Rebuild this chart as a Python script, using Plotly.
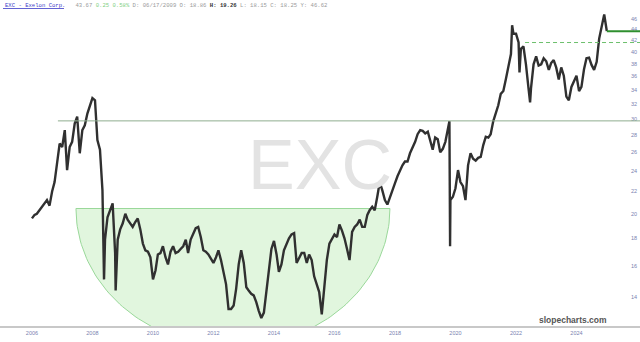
import math
import numpy as np
import pandas as pd
import plotly.graph_objects as go

# ---------------- data ----------------
first_month = "2006-01-01"
close_monthly = [
    19.6, 19.9, 20.0, 20.3, 20.5, 20.8, 21.2, 20.7, 22.0, 22.9,
    24.8, 27.0, 26.6, 28.6, 24.1, 26.6, 27.2, 29.4, 30.3, 25.9,
    28.6, 29.2, 30.7, 31.8, 32.8, 32.5, 27.4, 26.3, 22.1, 17.9,
    19.7, 20.3, 20.9, 16.9, 17.9, 18.7, 19.2, 20.0, 19.5, 19.2,
    18.9, 19.3, 19.6, 18.7, 17.6, 17.1, 17.0, 16.6, 15.1, 15.7,
    16.8, 16.9, 17.4, 16.6, 16.1, 17.0, 17.4, 16.9, 17.0, 17.2,
    17.4, 17.9, 16.9, 17.9, 18.4, 18.8, 18.9, 18.1, 17.1, 17.0,
    16.8, 16.5, 16.2, 16.6, 17.1, 16.4, 15.5, 14.8, 13.3, 13.3,
    13.5, 14.5, 16.1, 17.1, 16.2, 14.6, 14.4, 14.2, 14.1, 13.7,
    13.2, 12.8, 13.1, 14.3, 15.7, 17.2, 17.8, 16.8, 15.6, 16.1,
    17.1, 17.6, 18.0, 18.3, 18.4, 16.2, 16.6, 16.9, 16.9, 16.2,
    16.8, 16.4, 15.3, 14.8, 14.3, 13.0, 14.8, 16.4, 17.6, 17.9,
    18.3, 18.1, 19.1, 18.6, 18.0, 17.2, 16.4, 18.5, 18.9, 19.1,
    19.5, 18.9, 18.9, 19.9, 20.3, 20.6, 20.3, 21.5, 22.9, 22.1,
    21.2, 20.8, 21.4, 22.1, 22.8, 23.5, 24.1, 24.6, 25.0, 25.0,
    25.9, 26.5, 27.2, 28.1, 28.6, 28.5, 28.2, 28.4, 27.4, 26.3,
    27.7, 27.5, 26.0, 26.4, 27.2, 29.0, 21.2, 21.5, 22.3, 24.1,
    22.9, 22.5, 21.2, 24.6, 25.9, 25.3, 25.1, 25.4, 25.5, 26.8,
    27.8, 27.7, 28.1, 29.7, 30.7, 31.8, 33.4, 33.8, 35.6, 37.3,
    39.6, 43.2, 43.2, 41.6, 40.5, 40.9, 37.9, 34.2, 34.2, 37.9,
    39.2, 37.7, 37.9, 38.9, 38.4, 37.0, 38.1, 38.6, 37.4, 35.5,
    37.4, 36.1, 33.0, 32.5, 34.4, 35.3, 36.1, 33.8, 34.4, 37.1,
    38.9, 39.0, 37.8, 37.0, 38.3, 42.3, 44.3, 46.9, 43.7,
]
spike_dates = ["2008-05-20", "2008-10-07", "2019-10-20", "2019-10-28",
               "2021-11-15", "2022-02-12", "2022-06-20"]
spike_prices = [15.1, 14.4, 29.7, 17.4, 44.8, 36.6, 32.2]

y_tick_values = list(range(14, 47, 2))
x_tick_years = list(range(2006, 2025, 2))

resistance_level = 29.75
resistance_start = "2006-11-10"
breakout_level = 41.6
breakout_start = "2022-04-20"
last_price = 43.67
bowl_top = 20.45
bowl_left = "2007-06-16"
bowl_right = "2017-11-01"
bowl_depth_log10 = 0.2565

ticker_label = "EXC - Exelon Corp."
quote_last, quote_chg, quote_pct = "43.67", "0.25", "0.58%"
bar_date = "06/17/2009"
bar_ohlc = [("O:", "18.86"), ("H:", "19.26"), ("L:", "18.15"), ("C:", "18.25"), ("Y:", "46.62")]

# ---------------- build series ----------------
monthly_dates = pd.date_range(first_month, periods=len(close_monthly), freq="MS")
series = pd.concat([
    pd.Series(close_monthly, index=monthly_dates),
    pd.Series(spike_prices, index=pd.to_datetime(spike_dates)),
]).sort_index()

W, H = 640, 342
plot_h = 326
x_start = pd.Timestamp(first_month) - pd.Timedelta(days=386)
x_end = pd.Timestamp("2026-02-06")
y_lo, y_hi = math.log10(12.37), math.log10(49.9)

fig = go.Figure()

# cup / bowl half-ellipse (drawn in time x log-price space)
t0 = pd.Timestamp(bowl_left).value
t1 = pd.Timestamp(bowl_right).value
tc, ta = (t0 + t1) / 2, (t1 - t0) / 2
theta = np.linspace(0, math.pi, 120)
bx = pd.to_datetime(tc + ta * np.cos(theta))
by = 10 ** (math.log10(bowl_top) - bowl_depth_log10 * np.sin(theta))
bx = list(bx) + [bx[0]]
by = list(by) + [by[0]]
fig.add_trace(go.Scatter(
    x=bx, y=by, mode="lines", fill="toself",
    fillcolor="rgba(170,230,160,0.35)",
    line=dict(color="#9ad89a", width=1),
    hoverinfo="skip", showlegend=False,
))

fig.add_trace(go.Scatter(
    x=series.index, y=series.values, mode="lines",
    line=dict(color="#303030", width=2.4),
    showlegend=False,
))

# horizontal levels
fig.add_shape(type="line", xref="x", yref="y",
              x0=resistance_start, x1=x_end, y0=resistance_level, y1=resistance_level,
              line=dict(color="#8fae8f", width=1))
fig.add_shape(type="line", xref="x", yref="y",
              x0=breakout_start, x1=x_end, y0=breakout_level, y1=breakout_level,
              line=dict(color="#6cbf6c", width=1, dash="4px,3px"))
fig.add_shape(type="line", xref="x", yref="y",
              x0=monthly_dates[-1], x1=x_end, y0=last_price, y1=last_price,
              line=dict(color="#2f8f2f", width=2))

# watermark
fig.add_annotation(text="EXC", xref="paper", yref="paper", x=0.5, y=1 - 165 / plot_h,
                   showarrow=False, xanchor="center", yanchor="middle",
                   font=dict(family="Liberation Sans, Arial", size=70, color="#e3e3e3"))

# header (single line of text)
grey, green, dark, blue = "#9a9a9a", "#7fcf7f", "#333333", "#3b3bc8"
sp = "&nbsp;"
parts = [f"<span style='color:{blue}'>{ticker_label}</span>", sp * 3,
         f"<span style='color:{grey}'>{quote_last}</span> ",
         f"<span style='color:{green}'>{quote_chg} {quote_pct}</span> ",
         f"<span style='color:{grey}'>D: {bar_date}</span>"]
for lab, val in bar_ohlc:
    if lab == "H:":
        parts.append(f" <span style='color:{dark}'><b>{lab} {val}</b></span>")
    else:
        parts.append(f" <span style='color:{grey}'>{lab} {val}</span>")
fig.add_annotation(text="".join(parts), xref="paper", yref="paper", x=3 / W, y=1 - 5 / plot_h,
                   xanchor="left", yanchor="middle", showarrow=False,
                   font=dict(family="Liberation Mono, Courier New, monospace", size=5.6, color=grey))
fig.add_shape(type="line", xref="paper", yref="paper", x0=3 / W, x1=64 / W,
              y0=1 - 8.5 / plot_h, y1=1 - 8.5 / plot_h, line=dict(color=blue, width=0.8))

# brand
fig.add_annotation(text="<b>slopecharts.com</b>", xref="paper", yref="paper",
                   x=573 / W, y=1 - 320 / plot_h, xanchor="center", yanchor="middle",
                   showarrow=False,
                   font=dict(family="Liberation Sans, Arial", size=8.5, color="#555555"))

fig.update_layout(
    width=W, height=H,
    margin=dict(l=0, r=0, t=0, b=H - plot_h),
    paper_bgcolor="white", plot_bgcolor="white",
    showlegend=False,
    xaxis=dict(
        type="date", range=[x_start, x_end],
        tickvals=[pd.Timestamp(f"{y}-01-01") for y in x_tick_years],
        ticktext=[str(y) for y in x_tick_years],
        showgrid=False, zeroline=False,
        showline=True, linecolor="#c8c8c8", linewidth=2,
        ticks="", tickfont=dict(family="Liberation Sans, Arial", size=5.5, color="#7a7fb0"),
        fixedrange=True,
    ),
    yaxis=dict(
        type="log", range=[y_lo, y_hi], side="right",
        ticklabelposition="inside",
        tickvals=y_tick_values, ticktext=[str(v) for v in y_tick_values],
        showgrid=False, zeroline=False, showline=False, ticks="",
        tickfont=dict(family="Liberation Sans, Arial", size=5.5, color="#7a7fb0"),
        fixedrange=True,
    ),
)

fig.write_html("out.html")
